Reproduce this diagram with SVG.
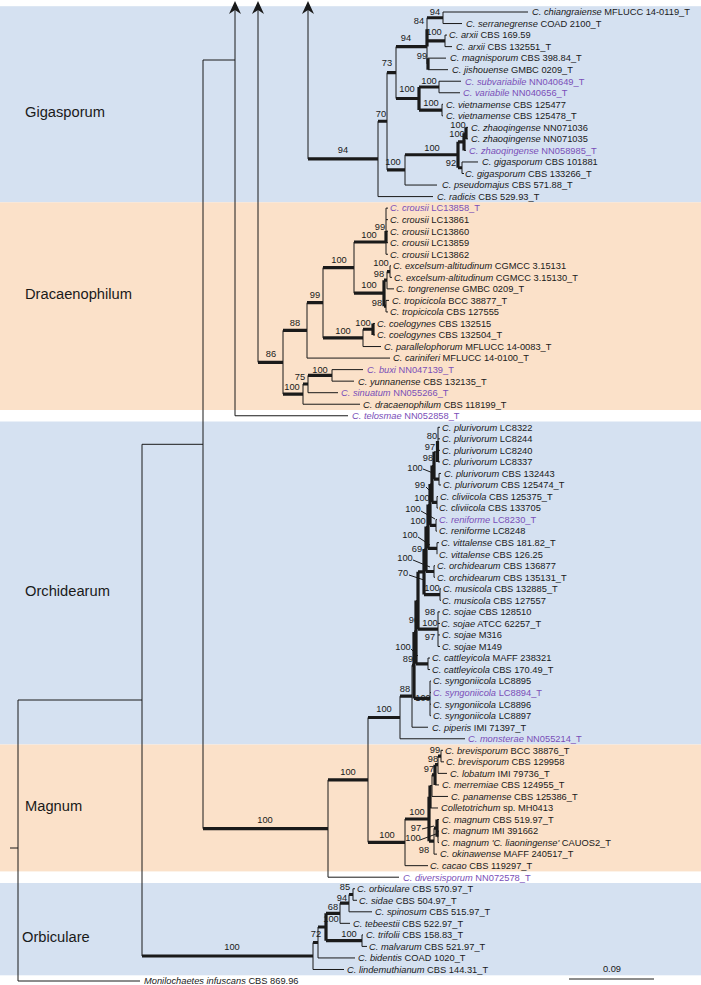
<svg xmlns="http://www.w3.org/2000/svg" width="701" height="985" viewBox="0 0 701 985">
<defs>
<style>
.t{font-family:"Liberation Sans",Arial,sans-serif;font-size:9.3px;fill:#1a1a1a}
.p{fill:#7a4fb8}
.i{font-style:italic}
.b{font-family:"Liberation Sans",Arial,sans-serif;font-size:9.3px;fill:#1a1a1a;text-anchor:middle}
.c{font-family:"Liberation Sans",Arial,sans-serif;font-size:14.7px;fill:#1a1a1a}
.l{fill:none;stroke:#1a1a1a;stroke-width:1}
.k{fill:none;stroke:#1a1a1a;stroke-width:3.2}
.bl{fill:#d5e1f1}
.or{fill:#fbe1c9}
</style>
</defs>
<g id="bands">
<rect class="bl" x="0" y="6.2" width="701" height="196.1"/>
<rect class="or" x="0" y="202.3" width="701" height="207.7"/>
<rect class="bl" x="0" y="421.5" width="701" height="323"/>
<rect class="or" x="0" y="744.5" width="701" height="126.9"/>
<rect class="bl" x="0" y="883" width="701" height="92.3"/>
</g>
<g id="clades">
<text id="clade-gigasporum" class="c" x="25" y="117">Gigasporum</text>
<text id="clade-dracaenophilum" class="c" x="25" y="299">Dracaenophilum</text>
<text id="clade-orchidearum" class="c" x="25" y="596">Orchidearum</text>
<text id="clade-magnum" class="c" x="25" y="811">Magnum</text>
<text id="clade-orbiculare" class="c" x="22" y="942">Orbiculare</text>
</g>
<g id="connectors">
<path class="l" d="M10 848H18M18 700V981M18 981H140M18 700H142M142 444.3V956M142 444.3H203M203 60V828.6M203 60H235"/>
<path class="l" d="M308 8V158.9M258 8V362.3M235 8V415.76"/>
<path d="M308 1L302 14L308 10L314 14ZM258 1L252 14L258 10L264 14ZM235 1L229 14L235 10L241 14Z" fill="#1a1a1a"/>
<!-- Gigasporum -->
<path class="k" d="M308 158.9H378M378 121.23H387M387 72.56H396M396 46.6H427M427 29.3V46.6M427 17.77H443M427 40.84H445M396 98.52H419M419 86.99V110.06M419 86.99H439M419 110.06H442M387 169.9H405M405 154.76H458M458 141.78V167.74M458 141.78H464M464 133.13V150.43M466 127.36V138.9M458 167.74H462M428 58.14V69.68"/>
<path class="l" d="M378 121.23V196.58M378 196.58H433M387 72.56V169.9M396 46.6V98.52M427 17.77V63.91M427 63.91H428M443 12V23.54M443 12H528M443 23.54H462M445 35.07V46.61M445 35.07H447M445 46.61H452M428 58.14H446M428 69.68H448M439 81.22V92.75M439 81.22H461M439 92.75H460M442 104.29V115.82M442 104.29H443M442 115.82H443M405 154.76V185.04M405 185.04H437M464 150.43H466M464 133.13H466M466 127.36H468M466 138.9H468M462 161.97V173.5M462 161.97H478M462 173.5H464"/>
<!-- Dracaenophilum -->
<path class="k" d="M258 362.3H283M283 330.4H307M307 302.7H323M323 267.6H354M354 242H386M386 231V243M354 293.19H384M384 280.21V306.17M384 280.21H387M387 271.56H390M384 306.17H386M323 337.89H363M363 329.24H373M373 323.47V335.01M283 394.1H303M303 384H308M308 375.4H332"/>
<path class="l" d="M283 330.4V394.1M307 302.7V358.08M307 358.08H390M323 267.6V337.89M354 242V293.19M386 208.11V254.26M386 208.11H388M386 219.65H388M386 231.18H388M386 242.72H388M386 254.26H388M387 271.56V288.86M387 288.86H394M390 265.79V277.33M390 265.79H391M390 277.33H392M386 300.4V311.94M386 300.4H389M386 311.94H388M363 329.24V346.54M363 346.54H381M373 323.47H375M373 335.01H375M303 384V404.22M303 404.22H360M308 375.4V392.69M308 392.69H338M332 369.62V381.15M332 369.62H363M332 381.15H354M235 415.76H348"/>
<!-- Orchidearum -->
<path class="k" d="M368 717.5H400M400 696.2H412M412 665.25H414M414 632.1V698.4M414 698.4H430M414 632.1H416M416 600.5V663.8M416 663.8H428M418 571.8V629.2M418 629.2H438M418 571.8H424M424 549V594.57M424 594.57H440M426 526.5V571.5M426 571.5H434M428 504.6V548.4M428 548.4H437M430 483.9V525.35M430 525.35H436M432 465.5V502.3M432 502.3H437M434 451.8V479.2M434 479.2H439M437.5 441V462"/>
<path class="l" d="M400 696.2V738.77M400 738.77H465M412 665.25V727.23M412 727.23H428M430 681.09V715.7M430 681.09H431M430 692.62H431M430 704.16H431M430 715.7H431M428 658.02V669.55M428 658.02H430M428 669.55H430M416 600.5H418M438 611.87V646.48M438 611.87H440M438 623.41H440M438 634.94H440M438 646.48H440M440 588.8V600.34M440 588.8H441M440 600.34H441M424 549H426M434 565.73V577.26M434 565.73H435M434 577.26H435M426 526.5H428M437 542.66V554.19M437 542.66H439M428 504.6H430M436 519.58V531.12M436 519.58H437M436 531.12H437M430 483.9H432M437 496.51V508.05M437 496.51H438M437 508.05H438M432 465.5H434M439 473.44V484.98M439 473.44H441M439 484.98H441M434 451.8H438M438 427.3V461.9M438 427.3H440M438 438.83H440M438 450.37H440M438 461.9H440"/>
<path class="l" d="M423 469L433 473M426 487L432 493M421 511L435 519M418 537L430 545M413 560L430 567M409 575L424 580M411 649L418 656M422 829L434 826M420 840L436 834"/>
<!-- Magnum -->
<path class="k" d="M203 828.6H328M328 779.9H368M368 842.3H405M405 819H429M429 796.8V841.2M430 785.6V807.98M432 774.8H435M435 764.7V784.91M435 764.7H438M438 756.07H441M429 841.2H434M434 828.2H437M437 819.52V836.8"/>
<path class="l" d="M328 779.9V877.2M328 877.2H399M368 717.5V842.3M405 819V865.66M405 865.66H428M429 796.8H430M430 807.98H438M430 785.6H432M432 774.8V796.45M432 796.45H448M435 784.91H439M438 756.07V773.38M438 773.38H447M441 750.3V761.84M441 750.3H443M441 761.84H444M434 828.2V854.13M434 854.13H437M437 819.52H439M437 836.8H438M438 831.06V842.59M438 831.06H439M438 842.59H439"/>
<!-- Orbiculare -->
<path class="k" d="M142 956H313M313 942.5H318M318 927H326M326 913.3H340M340 903.2H349M349 894.5H353M326 940.65H362M326 913.3V940.65"/>
<path class="l" d="M313 942.5V969.49M313 969.49H344M318 927V957.95M318 957.95H355M340 903.2V923.34M340 923.34H350M349 894.5V911.81M349 911.81H372M353 888.74V900.27M353 888.74H355M353 900.27H357M362 934.88V946.42M362 934.88H363M362 946.42H367"/>
<path class="l" d="M569 979H654"/>
</g>
<g id="support">
<text class="b" x="435" y="15.3">94</text>
<text class="b" x="419" y="24.3">84</text>
<text class="b" x="434" y="35.3">100</text>
<text class="b" x="406" y="41.3">94</text>
<text class="b" x="422" y="59.3">99</text>
<text class="b" x="387" y="66.3">73</text>
<text class="b" x="429" y="84.3">100</text>
<text class="b" x="407" y="92.3">100</text>
<text class="b" x="431" y="106.3">100</text>
<text class="b" x="381" y="117.3">70</text>
<text class="b" x="458" y="128.3">100</text>
<text class="b" x="457" y="137.3">100</text>
<text class="b" x="432" y="151.3">100</text>
<text class="b" x="343" y="153.3">94</text>
<text class="b" x="393" y="165.3">100</text>
<text class="b" x="451" y="166.3">92</text>
<text class="b" x="380" y="230.3">99</text>
<text class="b" x="369" y="238.3">100</text>
<text class="b" x="339" y="263.3">100</text>
<text class="b" x="381" y="266">100</text>
<text class="b" x="379" y="276.5">98</text>
<text class="b" x="369" y="288.3">100</text>
<text class="b" x="315" y="298.3">99</text>
<text class="b" x="377" y="306.3">98</text>
<text class="b" x="295" y="326.3">88</text>
<text class="b" x="363" y="326.3">100</text>
<text class="b" x="343" y="334.3">100</text>
<text class="b" x="271" y="357.3">86</text>
<text class="b" x="320" y="373.3">100</text>
<text class="b" x="300" y="380.3">75</text>
<text class="b" x="292" y="390.3">100</text>
<text class="b" x="432" y="439.3">80</text>
<text class="b" x="430" y="450.3">97</text>
<text class="b" x="428" y="461.3">98</text>
<text class="b" x="415" y="471.3">100</text>
<text class="b" x="420" y="488.3">99</text>
<text class="b" x="422" y="501.3">100</text>
<text class="b" x="413" y="512.3">100</text>
<text class="b" x="418" y="524.3">100</text>
<text class="b" x="410" y="538.3">100</text>
<text class="b" x="417" y="552.3">69</text>
<text class="b" x="405" y="561.3">100</text>
<text class="b" x="403" y="576.3">70</text>
<text class="b" x="432" y="591.3">100</text>
<text class="b" x="430" y="615.3">98</text>
<text class="b" x="414" y="623.3">96</text>
<text class="b" x="430" y="626.3">100</text>
<text class="b" x="430" y="640.3">97</text>
<text class="b" x="403" y="650.3">100</text>
<text class="b" x="408" y="662.3">89</text>
<text class="b" x="405" y="692.3">88</text>
<text class="b" x="423" y="701.3">100</text>
<text class="b" x="384" y="712.3">100</text>
<text class="b" x="435" y="753.3">99</text>
<text class="b" x="433" y="762.3">98</text>
<text class="b" x="429" y="772.3">97</text>
<text class="b" x="348" y="775.3">100</text>
<text class="b" x="417" y="815.3">100</text>
<text class="b" x="265" y="823.3">100</text>
<text class="b" x="416" y="831.3">97</text>
<text class="b" x="387" y="838.3">100</text>
<text class="b" x="413" y="841.3">100</text>
<text class="b" x="424" y="853.3">98</text>
<text class="b" x="345" y="889.5">85</text>
<text class="b" x="342" y="901">94</text>
<text class="b" x="333" y="910.3">68</text>
<text class="b" x="331" y="922.3">100</text>
<text class="b" x="349" y="937.3">100</text>
<text class="b" x="316" y="937.3">72</text>
<text class="b" x="232" y="950.3">100</text>
<text class="b" x="612" y="972">0.09</text>
</g>
<g id="tips">
<text id="t0" class="t" x="532" y="15.3"><tspan class="i">C. chiangraiense</tspan> MFLUCC 14-0119_T</text>
<text id="t1" class="t" x="466" y="26.8"><tspan class="i">C. serranegrense</tspan> COAD 2100_T</text>
<text id="t2" class="t" x="449" y="38.4"><tspan class="i">C. arxii</tspan> CBS 169.59</text>
<text id="t3" class="t" x="456" y="49.9"><tspan class="i">C. arxii</tspan> CBS 132551_T</text>
<text id="t4" class="t" x="450" y="61.4"><tspan class="i">C. magnisporum</tspan> CBS 398.84_T</text>
<text id="t5" class="t" x="452" y="73"><tspan class="i">C. jishouense</tspan> GMBC 0209_T</text>
<text id="t6" class="t p" x="465" y="84.5"><tspan class="i">C. subvariabile</tspan> NN040649_T</text>
<text id="t7" class="t p" x="463" y="96.1"><tspan class="i">C. variabile</tspan> NN040656_T</text>
<text id="t8" class="t" x="446" y="107.6"><tspan class="i">C. vietnamense</tspan> CBS 125477</text>
<text id="t9" class="t" x="446" y="119.1"><tspan class="i">C. vietnamense</tspan> CBS 125478_T</text>
<text id="t10" class="t" x="471" y="130.7"><tspan class="i">C. zhaoqingense</tspan> NN071036</text>
<text id="t11" class="t" x="471" y="142.2"><tspan class="i">C. zhaoqingense</tspan> NN071035</text>
<text id="t12" class="t p" x="469" y="153.7"><tspan class="i">C. zhaoqingense</tspan> NN058985_T</text>
<text id="t13" class="t" x="482" y="165.3"><tspan class="i">C. gigasporum</tspan> CBS 101881</text>
<text id="t14" class="t" x="465" y="176.8"><tspan class="i">C. gigasporum</tspan> CBS 133266_T</text>
<text id="t15" class="t" x="442" y="188.3"><tspan class="i">C. pseudomajus</tspan> CBS 571.88_T</text>
<text id="t16" class="t" x="437" y="199.9"><tspan class="i">C. radicis</tspan> CBS 529.93_T</text>
<text id="t17" class="t p" x="390" y="211.4"><tspan class="i">C. crousii</tspan> LC13858_T</text>
<text id="t18" class="t" x="390" y="223"><tspan class="i">C. crousii</tspan> LC13861</text>
<text id="t19" class="t" x="390" y="234.5"><tspan class="i">C. crousii</tspan> LC13860</text>
<text id="t20" class="t" x="390" y="246"><tspan class="i">C. crousii</tspan> LC13859</text>
<text id="t21" class="t" x="390" y="257.6"><tspan class="i">C. crousii</tspan> LC13862</text>
<text id="t22" class="t" x="393" y="269.1"><tspan class="i">C. excelsum-altitudinum</tspan> CGMCC 3.15131</text>
<text id="t23" class="t" x="394" y="280.6"><tspan class="i">C. excelsum-altitudinum</tspan> CGMCC 3.15130_T</text>
<text id="t24" class="t" x="396" y="292.2"><tspan class="i">C. tongrenense</tspan> GMBC 0209_T</text>
<text id="t25" class="t" x="392" y="303.7"><tspan class="i">C. tropicicola</tspan> BCC 38877_T</text>
<text id="t26" class="t" x="390" y="315.2"><tspan class="i">C. tropicicola</tspan> CBS 127555</text>
<text id="t27" class="t" x="377" y="326.8"><tspan class="i">C. coelogynes</tspan> CBS 132515</text>
<text id="t28" class="t" x="377" y="338.3"><tspan class="i">C. coelogynes</tspan> CBS 132504_T</text>
<text id="t29" class="t" x="384" y="349.8"><tspan class="i">C. parallelophorum</tspan> MFLUCC 14-0083_T</text>
<text id="t30" class="t" x="393" y="361.4"><tspan class="i">C. cariniferi</tspan> MFLUCC 14-0100_T</text>
<text id="t31" class="t p" x="367" y="372.9"><tspan class="i">C. buxi</tspan> NN047139_T</text>
<text id="t32" class="t" x="358" y="384.5"><tspan class="i">C. yunnanense</tspan> CBS 132135_T</text>
<text id="t33" class="t p" x="341" y="396"><tspan class="i">C. sinuatum</tspan> NN055266_T</text>
<text id="t34" class="t" x="363" y="407.5"><tspan class="i">C. dracaenophilum</tspan> CBS 118199_T</text>
<text id="t35" class="t p" x="352" y="419.1"><tspan class="i">C. telosmae</tspan> NN052858_T</text>
<text id="t36" class="t" x="442" y="430.6"><tspan class="i">C. plurivorum</tspan> LC8322</text>
<text id="t37" class="t" x="442" y="442.1"><tspan class="i">C. plurivorum</tspan> LC8244</text>
<text id="t38" class="t" x="442" y="453.7"><tspan class="i">C. plurivorum</tspan> LC8240</text>
<text id="t39" class="t" x="442" y="465.2"><tspan class="i">C. plurivorum</tspan> LC8337</text>
<text id="t40" class="t" x="444" y="476.7"><tspan class="i">C. plurivorum</tspan> CBS 132443</text>
<text id="t41" class="t" x="443" y="488.3"><tspan class="i">C. plurivorum</tspan> CBS 125474_T</text>
<text id="t42" class="t" x="440" y="499.8"><tspan class="i">C. cliviicola</tspan> CBS 125375_T</text>
<text id="t43" class="t" x="439" y="511.4"><tspan class="i">C. cliviicola</tspan> CBS 133705</text>
<text id="t44" class="t p" x="439" y="522.9"><tspan class="i">C. reniforme</tspan> LC8230_T</text>
<text id="t45" class="t" x="439" y="534.4"><tspan class="i">C. reniforme</tspan> LC8248</text>
<text id="t46" class="t" x="441" y="546"><tspan class="i">C. vittalense</tspan> CBS 181.82_T</text>
<text id="t47" class="t" x="439" y="557.5"><tspan class="i">C. vittalense</tspan> CBS 126.25</text>
<text id="t48" class="t" x="437" y="569"><tspan class="i">C. orchidearum</tspan> CBS 136877</text>
<text id="t49" class="t" x="437" y="580.6"><tspan class="i">C. orchidearum</tspan> CBS 135131_T</text>
<text id="t50" class="t" x="443" y="592.1"><tspan class="i">C. musicola</tspan> CBS 132885_T</text>
<text id="t51" class="t" x="442" y="603.6"><tspan class="i">C. musicola</tspan> CBS 127557</text>
<text id="t52" class="t" x="442" y="615.2"><tspan class="i">C. sojae</tspan> CBS 128510</text>
<text id="t53" class="t" x="441" y="626.7"><tspan class="i">C. sojae</tspan> ATCC 62257_T</text>
<text id="t54" class="t" x="442" y="638.2"><tspan class="i">C. sojae</tspan> M316</text>
<text id="t55" class="t" x="442" y="649.8"><tspan class="i">C. sojae</tspan> M149</text>
<text id="t56" class="t" x="432" y="661.3"><tspan class="i">C. cattleyicola</tspan> MAFF 238321</text>
<text id="t57" class="t" x="432" y="672.9"><tspan class="i">C. cattleyicola</tspan> CBS 170.49_T</text>
<text id="t58" class="t" x="433" y="684.4"><tspan class="i">C. syngoniicola</tspan> LC8895</text>
<text id="t59" class="t p" x="433" y="695.9"><tspan class="i">C. syngoniicola</tspan> LC8894_T</text>
<text id="t60" class="t" x="433" y="707.5"><tspan class="i">C. syngoniicola</tspan> LC8896</text>
<text id="t61" class="t" x="433" y="719"><tspan class="i">C. syngoniicola</tspan> LC8897</text>
<text id="t62" class="t" x="432" y="730.5"><tspan class="i">C. piperis</tspan> IMI 71397_T</text>
<text id="t63" class="t p" x="468" y="742.1"><tspan class="i">C. monsterae</tspan> NN055214_T</text>
<text id="t64" class="t" x="445" y="753.6"><tspan class="i">C. brevisporum</tspan> BCC  38876_T</text>
<text id="t65" class="t" x="446" y="765.1"><tspan class="i">C. brevisporum</tspan> CBS 129958</text>
<text id="t66" class="t" x="450" y="776.7"><tspan class="i">C. lobatum</tspan> IMI 79736_T</text>
<text id="t67" class="t" x="442" y="788.2"><tspan class="i">C. merremiae</tspan> CBS 124955_T</text>
<text id="t68" class="t" x="451" y="799.8"><tspan class="i">C. panamense</tspan> CBS 125386_T</text>
<text id="t69" class="t" x="441" y="811.3"><tspan class="i">Colletotrichum</tspan> sp. MH0413</text>
<text id="t70" class="t" x="442" y="822.8"><tspan class="i">C. magnum</tspan> CBS 519.97_T</text>
<text id="t71" class="t" x="441" y="834.4"><tspan class="i">C. magnum</tspan> IMI 391662</text>
<text id="t72" class="t" x="441" y="845.9"><tspan class="i">C. magnum 'C. liaoningense'</tspan> CAUOS2_T</text>
<text id="t73" class="t" x="440" y="857.4"><tspan class="i">C. okinawense</tspan> MAFF 240517_T</text>
<text id="t74" class="t" x="430" y="869"><tspan class="i">C. cacao</tspan> CBS 119297_T</text>
<text id="t75" class="t p" x="403" y="880.5"><tspan class="i">C. diversisporum</tspan> NN072578_T</text>
<text id="t76" class="t" x="357" y="892"><tspan class="i">C. orbiculare</tspan> CBS 570.97_T</text>
<text id="t77" class="t" x="359" y="903.6"><tspan class="i">C. sidae</tspan> CBS 504.97_T</text>
<text id="t78" class="t" x="375" y="915.1"><tspan class="i">C. spinosum</tspan> CBS 515.97_T</text>
<text id="t79" class="t" x="353" y="926.6"><tspan class="i">C. tebeestii</tspan> CBS 522.97_T</text>
<text id="t80" class="t" x="366" y="938.2"><tspan class="i">C. trifolii</tspan> CBS 158.83_T</text>
<text id="t81" class="t" x="369" y="949.7"><tspan class="i">C. malvarum</tspan> CBS 521.97_T</text>
<text id="t82" class="t" x="358" y="961.3"><tspan class="i">C. bidentis</tspan> COAD 1020_T</text>
<text id="t83" class="t" x="347" y="972.8"><tspan class="i">C. lindemuthianum</tspan> CBS 144.31_T</text>
<text id="t84" class="t" x="144" y="984.3"><tspan class="i">Monilochaetes infuscans</tspan> CBS 869.96</text>
</g>
</svg>
